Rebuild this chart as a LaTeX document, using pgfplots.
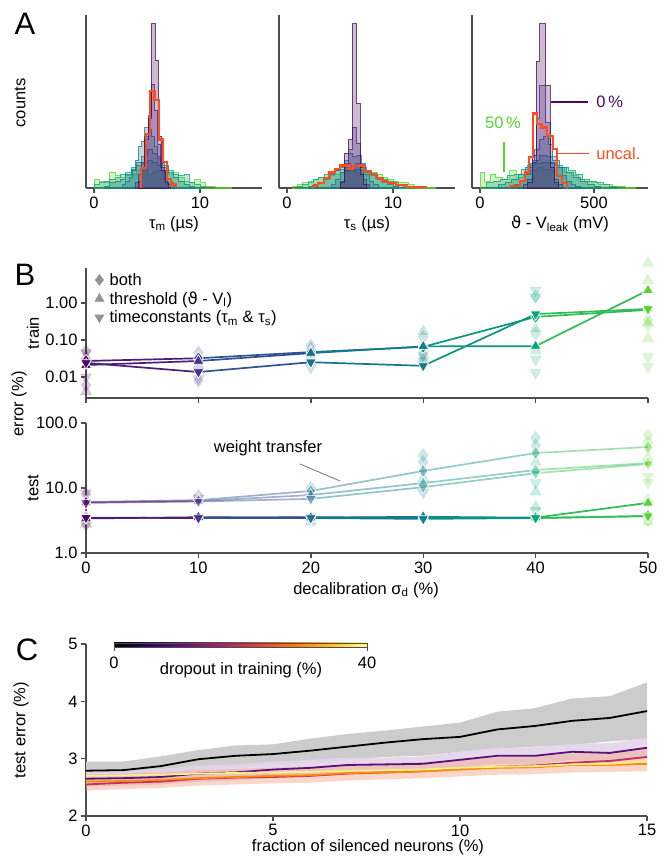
\documentclass[border=0pt]{standalone}
\usepackage{fontspec}
\setmainfont{Liberation Sans}
\newfontfamily\dv{DejaVu Sans}
\usepackage{pgfplots}
\pgfplotsset{compat=1.18}

\newcommand{\vth}{{\dv ϑ}}
\newcommand{\fs}{\fontsize{16.5}{19}\selectfont}
\newcommand{\panelfont}{\fontsize{31}{33}\selectfont}

\definecolor{spine}{HTML}{4D4D4D}
\definecolor{d0}{RGB}{74,10,94}
\definecolor{d1}{RGB}{70,53,138}
\definecolor{d2}{RGB}{29,111,146}
\definecolor{d3}{RGB}{14,128,134}
\definecolor{d4}{RGB}{10,165,122}
\definecolor{d5}{RGB}{88,212,48}
\definecolor{uncal}{HTML}{FF4D1F}
\definecolor{inf1}{HTML}{5D0F80}
\definecolor{inf2}{HTML}{C92D5B}
\definecolor{inf3}{HTML}{FB8A08}
\definecolor{inf4}{HTML}{F8EE86}
\definecolor{warm}{HTML}{F2A486}
\definecolor{i0}{RGB}{0,0,4}
\definecolor{i1}{RGB}{40,11,84}
\definecolor{i2}{RGB}{101,21,110}
\definecolor{i3}{RGB}{159,42,99}
\definecolor{i4}{RGB}{212,72,66}
\definecolor{i5}{RGB}{245,125,21}
\definecolor{i6}{RGB}{250,193,39}
\definecolor{i7}{RGB}{252,255,164}
% tikz maps the 25bp..75bp part of a shading onto the path
\pgfdeclarehorizontalshading{infernobar}{100bp}{color(0bp)=(i0); color(25bp)=(i0); color(32.14bp)=(i1); color(39.29bp)=(i2); color(46.43bp)=(i3); color(53.57bp)=(i4); color(60.71bp)=(i5); color(67.86bp)=(i6); color(75bp)=(i7); color(100bp)=(i7)}

\pgfplotsset{
  colormap={decal}{rgb255=(74,10,94) rgb255=(70,53,138) rgb255=(29,111,146) rgb255=(14,128,134) rgb255=(10,165,122) rgb255=(88,212,48)},
  /pgf/number format/assume math mode=true,
  base/.style={
    scale only axis, clip=false,
    axis lines=left, axis line style={-, spine, line width=1.8pt},
    tick style={spine, line width=1.4pt}, tick align=outside,
    major tick length=5pt,
    tick label style={font=\fs, black},
  },
  ha/.style={base, width=176pt, height=173pt, ymin=0, ymax=100, ytick=\empty},
  hist/.style={const plot, line width=0.9pt, draw=#1, draw opacity=0.75, fill=#1, fill opacity=0.28},
  unc/.style={const plot, uncal, line width=2.2pt},
  dmark/.style={mark=diamond*, mark size=6.5pt},
  umark/.style={mark=triangle*, mark size=6.3pt},
  vmark/.style={mark=triangle*, mark size=6.3pt, mark options={rotate=180}},
  main/.style={scatter, only marks, scatter src=x, scatter/use mapped color={draw=white, fill=mapped color, line width=0.7pt}},
  faded/.style={scatter, only marks, scatter src=x, scatter/use mapped color={draw=mapped color, fill=mapped color, opacity=0.2}},
  light/.style={scatter, only marks, scatter src=x, scatter/use mapped color={draw=white, fill=mapped color, fill opacity=0.45, line width=0.5pt}},
  gline/.style={mesh, point meta=x, line width=1.7pt},
}

% panel C: mean test error per dropout level (k=0%, p~10%, r~20%, o~30%, yl~40%)
\pgfplotstableread{
x  k    p    r    o    yl
0  2.79 2.65 2.55 2.60 2.70
1  2.80 2.66 2.58 2.61 2.71
2  2.87 2.68 2.60 2.63 2.72
3  2.99 2.74 2.65 2.66 2.74
4  3.05 2.76 2.67 2.68 2.75
5  3.08 2.81 2.68 2.70 2.76
6  3.14 2.84 2.70 2.71 2.77
7  3.21 2.89 2.74 2.75 2.79
8  3.28 2.90 2.76 2.76 2.80
9  3.34 2.91 2.78 2.78 2.81
10 3.38 2.98 2.82 2.81 2.84
11 3.51 3.05 2.86 2.84 2.86
12 3.57 3.05 2.88 2.85 2.87
13 3.66 3.12 2.93 2.89 2.90
14 3.71 3.10 2.96 2.89 2.91
15 3.83 3.19 3.03 2.91 2.96
}\dataC

\begin{document}
\begin{tikzpicture}
\useasboundingbox (0,0) rectangle (667pt,861pt);

% ---------------- panel A ----------------
\begin{axis}[ha, at={(86pt,673pt)}, anchor=south west, xmin=-0.755, xmax=15.85, xtick={0,10}]
\addplot[hist=d5] coordinates {(0,5) (0.5,4) (1,3) (1.5,9) (2,7) (2.5,6) (3,7) (3.5,8) (4,10) (4.5,12) (5,8) (5.5,9) (6,10) (6.5,9) (7,8) (7.5,9) (8,6) (8.5,4) (9,3) (9.5,5) (10,3) (10.5,1) (11,1) (11.5,0.5) (12,0.5) (12.5,0.3) (13,0)} \closedcycle;
\addplot[hist=d4] coordinates {(0,2) (0.5,3) (1,4) (1.5,5) (2,6) (2.5,8) (3,9) (3.5,12) (4,13) (4.5,14) (5,16) (5.5,15) (6,13) (6.5,12) (7,10) (7.5,8) (8,7) (8.5,8) (9,3) (9.5,2) (10,1) (10.5,0)} \closedcycle;
\addplot[hist=d3] coordinates {(1,1) (1.5,3) (2,4) (2.5,5) (3,8) (3.5,11) (4,15) (4.5,18) (5,22) (5.5,20) (6,17) (6.5,13) (7,9) (7.5,6) (8,4) (8.5,2) (9,1) (9.5,0)} \closedcycle;
\addplot[hist=d2] coordinates {(2.7,2) (3.0,4) (3.3,6) (3.6,10) (3.9,16) (4.2,24) (4.5,27) (4.8,35) (5.1,34) (5.4,30) (5.7,24) (6.0,18) (6.3,14) (6.6,8) (6.9,5) (7.2,3) (7.5,1) (7.8,0)} \closedcycle;
\addplot[hist=d1] coordinates {(3.9,3) (4.2,8) (4.5,15) (4.8,30) (5.1,42) (5.4,60) (5.7,45) (6.0,25) (6.3,12) (6.6,5) (6.9,2) (7.2,0)} \closedcycle;
\addplot[hist=d0] coordinates {(4.2,4) (4.5,12) (4.8,28) (5.1,40) (5.4,95) (5.8,74) (6.1,30) (6.4,10) (6.7,3) (7.0,0)} \closedcycle;
\addplot[unc] coordinates {(4.4,0) (4.4,11.6) (4.9,31) (5.3,56) (5.7,51) (6.1,28) (6.5,15) (6.9,5) (7.3,2) (7.7,0)};
\end{axis}

\begin{axis}[ha, at={(279pt,673pt)}, anchor=south west, xmin=-0.755, xmax=15.85, xtick={0,10}]
\addplot[hist=d5] coordinates {(0.5,1) (1,2) (1.5,3) (2,4) (2.5,5) (3,6) (3.5,6) (4,7) (4.5,8) (5,9) (5.5,10) (6,10) (6.5,9) (7,10) (7.5,9) (8,9) (8.5,8) (9,6) (9.5,5) (10,4) (10.5,3) (11,3) (11.5,2) (12,1) (12.5,1) (13,0.5) (14,0)} \closedcycle;
\addplot[hist=d4] coordinates {(1,1) (1.5,2) (2,3) (2.5,5) (3,6) (3.5,8) (4,9) (4.5,10) (5,11) (5.5,12) (6,11) (6.5,11) (7,10) (7.5,9) (8,8) (8.5,6) (9,5) (9.5,4) (10,3) (10.5,2) (11,1) (11.5,1) (12,0)} \closedcycle;
\addplot[hist=d3] coordinates {(2,1) (2.5,2) (3,3) (3.5,5) (4,8) (4.5,10) (5,12) (5.5,14) (6,13) (6.5,14) (7,12) (7.5,10) (8,7) (8.5,5) (9,3) (9.5,2) (10,1) (10.5,0)} \closedcycle;
\addplot[hist=d2] coordinates {(4.2,2) (4.6,5) (5.0,9) (5.4,16) (5.8,20) (6.2,18) (6.6,19) (7.0,14) (7.4,8) (7.8,4) (8.2,2) (8.6,0)} \closedcycle;
\addplot[hist=d1] coordinates {(5.0,4) (5.4,10) (5.8,22) (6.15,35) (6.55,26) (6.9,12) (7.2,5) (7.5,2) (7.8,0)} \closedcycle;
\addplot[hist=d0] coordinates {(5.0,3) (5.4,20) (5.8,28) (6.15,95) (6.55,49) (6.9,8) (7.2,2) (7.5,0)} \closedcycle;
\addplot[unc] coordinates {(2.45,0) (2.45,1) (2.9,3) (3.5,6) (4.0,9) (4.5,11) (5.0,13) (5.9,11) (6.2,12.5) (6.9,13) (7.3,10) (7.8,8) (8.4,6) (9.0,4) (9.5,3) (10.3,1.5) (11.3,0.5) (13.1,0)};
\end{axis}

\begin{axis}[ha, at={(472pt,673pt)}, anchor=south west, xmin=-35, xmax=737, xtick={0,500}]
\addplot[hist=d5] coordinates {(0,9) (20,4) (45,8) (70,6) (100,5) (130,10) (160,6) (190,8) (220,10) (250,12) (280,11) (310,10) (340,12) (370,9) (400,7) (430,5) (460,4) (490,3) (520,2) (550,2) (580,1) (610,1) (640,0.5) (680,0)} \closedcycle;
\addplot[hist=d4] coordinates {(30,3) (60,4) (90,5) (120,7) (150,8) (180,11) (210,13) (240,14) (270,15) (300,14) (330,13) (360,12) (390,10) (420,8) (450,5) (480,4) (510,3) (540,2) (570,1) (600,0)} \closedcycle;
\addplot[hist=d3] coordinates {(80,2) (110,3) (140,5) (170,8) (200,12) (230,16) (260,19) (290,18) (320,16) (350,12) (380,9) (410,6) (440,4) (470,2) (500,1) (530,0)} \closedcycle;
\addplot[hist=d2] coordinates {(150,2) (175,4) (200,8) (220,14) (240,22) (260,28) (280,30) (300,25) (320,18) (340,12) (360,7) (380,4) (400,2) (420,1) (440,0)} \closedcycle;
\addplot[hist=d1] coordinates {(190,2) (210,5) (228,15) (246,40) (263,59) (289,38) (307,15) (325,5) (343,2) (360,0)} \closedcycle;
\addplot[hist=d0] coordinates {(210,3) (228,19) (246,73) (263,95) (289,59) (307,12) (325,3) (343,0)} \closedcycle;
\addplot[unc] coordinates {(132,0) (132,1) (175,4) (197,9) (216,18) (231,43) (249,37) (270,35) (295,30) (319,22.5) (339,7) (358,3) (380,0)};
\draw[d0, line width=1.2pt] (axis cs:311,49.7) -- (axis cs:474,49.7);
\node[d0, font=\fs, anchor=west] at (axis cs:495,49.7) {0\,\%};
\draw[uncal, line width=1.2pt] (axis cs:342,20) -- (axis cs:478,20);
\node[uncal, font=\fs, anchor=west] at (axis cs:495,20) {uncal.};
\draw[d5, line width=1.2pt] (axis cs:105,9.2) -- (axis cs:105,26.6);
\node[d5, font=\fs] at (axis cs:101,37.6) {50\,\%};
\end{axis}

\node[font=\panelfont] at (25pt,837pt) {A};
\node[font=\fs, rotate=90] at (20pt,758pt) {counts};
\node[font=\fs] at (174pt,637pt) {τ\textsubscript{m} (µs)};
\node[font=\fs] at (367pt,637pt) {τ\textsubscript{s} (µs)};
\node[font=\fs] at (560pt,637pt) {\vth{} - V\textsubscript{leak} (mV)};

% ---------------- panel B ----------------
\begin{axis}[base, at={(86pt,463pt)}, anchor=south west, width=562pt, height=130pt,
  xmin=0, xmax=50, xtick={0,10,...,50}, xticklabels={},
  ymode=log, ymin=0.0027, ymax=8.8, ytick={0.01,0.1,1}, yticklabels={0.01,0.10,1.00}, yminorticks=false,
  colormap name=decal, point meta min=0, point meta max=50,
  legend style={at={(0,1)}, anchor=north west, xshift=2pt, yshift=-1pt, draw=none, fill=none, font=\fs, row sep=1pt},
  legend cell align=left,
  legend image code/.code={\path (-8pt,0pt) (8pt,0pt); \draw[#1] plot coordinates {(0pt,0pt)};}]
\addlegendimage{only marks, dmark, mark size=5.5pt, gray!85}
\addlegendentry{both}
\addlegendimage{only marks, umark, mark size=5.3pt, gray!85}
\addlegendentry{threshold (\vth{} - V\textsubscript{l})}
\addlegendimage{only marks, vmark, mark size=5.3pt, gray!85}
\addlegendentry{timeconstants (τ\textsubscript{m} \& τ\textsubscript{s})}
\addplot[faded, dmark] coordinates {(0,0.05) (0,0.006) (10,0.008) (10,0.045) (20,0.07) (20,0.03) (30,0.12) (30,0.04) (40,1.5) (40,0.15) (50,0.35) (50,0.25)};
\addplot[faded, umark] coordinates {(0,0.004) (0,0.035) (10,0.02) (20,0.06) (30,0.17) (30,0.03) (40,0.2) (40,0.05) (50,12) (50,4) (50,0.11) (50,0.3)};
\addplot[faded, vmark] coordinates {(0,0.045) (0,0.01) (10,0.009) (20,0.018) (30,0.04) (30,0.028) (40,2.2) (40,1.45) (40,0.013) (40,0.03) (50,0.035) (50,0.019)};
\addplot[gline] coordinates {(0,0.027) (10,0.032) (20,0.047) (30,0.065) (40,0.42) (50,0.65)};
\addplot[gline] coordinates {(0,0.021) (10,0.027) (20,0.044) (30,0.067) (40,0.068) (50,2.2)};
\addplot[gline] coordinates {(0,0.024) (10,0.0136) (20,0.025) (30,0.020) (40,0.50) (50,0.69)};
\addplot[main, dmark] coordinates {(0,0.027) (10,0.032) (20,0.047) (30,0.065) (40,0.42) (50,0.65)};
\addplot[main, umark] coordinates {(0,0.021) (10,0.027) (20,0.044) (30,0.067) (40,0.068) (50,2.2)};
\addplot[main, vmark] coordinates {(0,0.024) (10,0.0136) (20,0.025) (30,0.020) (40,0.50) (50,0.69)};
\end{axis}

\begin{axis}[base, at={(86pt,308pt)}, anchor=south west, width=562pt, height=130pt,
  xmin=0, xmax=50, xtick={0,10,...,50},
  ymode=log, ymin=1, ymax=100, ytick={1,10,100}, yticklabels={1.0,10.0,100.0}, yminorticks=false,
  colormap name=decal, point meta min=0, point meta max=50]
\addplot[faded, dmark] coordinates {(0,8) (10,7.5) (20,10) (30,32) (30,25) (40,59) (40,45) (50,65) (50,50)};
\addplot[faded, umark] coordinates {(0,2.8) (20,3.0) (30,14) (40,8.7) (40,25) (40,5.1) (50,30) (50,6.6) (50,3.0)};
\addplot[faded, vmark] coordinates {(0,8.4) (0,2.7) (10,7) (20,7.2) (30,8.5) (40,12) (40,4.5) (50,15) (50,12) (50,3.1)};
% weight transfer
\addplot[gline, opacity=0.45] coordinates {(0,6.1) (10,6.5) (20,9.0) (30,18.3) (40,34.5) (50,42.7)};
\addplot[gline, opacity=0.45] coordinates {(0,6.0) (10,6.3) (20,7.8) (30,11.9) (40,18.9) (50,24.2)};
\addplot[gline, opacity=0.45] coordinates {(0,5.9) (10,6.2) (20,6.8) (30,10.3) (40,16.9) (50,23.4)};
\addplot[light, dmark] coordinates {(0,6.1) (10,6.5) (20,9.0) (30,18.3) (40,34.5) (50,42.7)};
\addplot[light, umark] coordinates {(0,6.0) (10,6.3) (20,7.8) (30,11.9) (40,18.9) (50,24.2)};
\addplot[light, vmark] coordinates {(0,5.9) (10,6.2) (20,6.8) (30,10.3) (40,16.9) (50,23.4)};
% in-the-loop
\addplot[gline] coordinates {(0,3.5) (10,3.5) (20,3.55) (30,3.5) (40,3.45) (50,3.7)};
\addplot[gline] coordinates {(0,3.4) (10,3.55) (20,3.5) (30,3.6) (40,3.5) (50,5.9)};
\addplot[gline] coordinates {(0,3.5) (10,3.45) (20,3.45) (30,3.35) (40,3.45) (50,3.7)};
\addplot[main, dmark] coordinates {(0,3.5) (10,3.5) (20,3.55) (30,3.5) (40,3.45) (50,3.7)};
\addplot[main, umark] coordinates {(0,3.4) (10,3.55) (20,3.5) (30,3.6) (40,3.5) (50,5.9)};
\addplot[main, vmark] coordinates {(0,3.5) (10,3.45) (20,3.45) (30,3.35) (40,3.45) (50,3.7)};
\end{axis}

\node[font=\panelfont] at (25pt,586pt) {B};
\node[font=\fs, rotate=90] at (33pt,528pt) {train};
\node[font=\fs, rotate=90] at (33pt,373pt) {test};
\node[font=\fs, rotate=90] at (19pt,457pt) {error (\%)};
\node[font=\fs] at (268pt,413pt) {weight transfer};
\draw[gray, line width=0.9pt] (300pt,397pt) -- (340pt,380pt);
\node[font=\fs] at (366pt,271pt) {decalibration σ\textsubscript{d} (\%)};

% ---------------- panel C ----------------
\begin{axis}[base, at={(86pt,45pt)}, anchor=south west, width=561pt, height=172pt,
  xmin=0, xmax=15, ymin=2, ymax=5, xtick={0,5,10,15}, ytick={2,3,4,5}]
% spread bands (upper edge left to right, then lower edge right to left)
\addplot[draw=none, fill=black!20] coordinates {(0,2.95) (1,2.95) (2,3.04) (3,3.15) (4,3.23) (5,3.25) (6,3.35) (7,3.43) (8,3.49) (9,3.56) (10,3.63) (11,3.82) (12,3.88) (13,4.05) (14,4.09) (15,4.33)
  (15,3.35) (14,3.30) (13,3.24) (12,3.21) (11,3.17) (10,3.12) (9,3.05) (8,3.03) (7,2.98) (6,2.93) (5,2.90) (4,2.86) (3,2.80) (2,2.70) (1,2.65) (0,2.63)} -- cycle;
\addplot[draw=none, fill=inf1!18, fill opacity=0.9] coordinates {(0,2.78) (1,2.79) (2,2.82) (3,2.88) (4,2.90) (5,2.95) (6,2.98) (7,3.02) (8,3.02) (9,3.04) (10,3.12) (11,3.19) (12,3.20) (13,3.26) (14,3.27) (15,3.37)
  (15,3.01) (14,2.93) (13,2.98) (12,2.90) (11,2.91) (10,2.84) (9,2.78) (8,2.78) (7,2.76) (6,2.70) (5,2.67) (4,2.62) (3,2.60) (2,2.55) (1,2.53) (0,2.52)} -- cycle;
\addplot[draw=none, fill=warm, fill opacity=0.45] coordinates {(0,2.72) (1,2.74) (2,2.76) (3,2.80) (4,2.82) (5,2.84) (6,2.86) (7,2.90) (8,2.92) (9,2.94) (10,2.98) (11,3.02) (12,3.04) (13,3.09) (14,3.12) (15,3.18)
  (15,2.78) (14,2.77) (13,2.76) (12,2.73) (11,2.72) (10,2.69) (9,2.66) (8,2.64) (7,2.62) (6,2.58) (5,2.57) (4,2.55) (3,2.53) (2,2.49) (1,2.47) (0,2.44)} -- cycle;
\addplot[black, line width=1.8pt] table[x=x, y=k] {\dataC};
\addplot[inf1, line width=1.8pt] table[x=x, y=p] {\dataC};
\addplot[inf2, line width=1.8pt] table[x=x, y=r] {\dataC};
\addplot[inf3, line width=1.8pt] table[x=x, y=o] {\dataC};
\addplot[inf4, line width=1.8pt] table[x=x, y=yl] {\dataC};
\end{axis}

% colour bar (dropout in training)
\shade[shading=infernobar] (114pt,214pt) rectangle (367pt,218pt);
\draw[spine, line width=0.8pt] (114pt,214pt) rectangle (367pt,218pt);
\draw[spine, line width=1pt] (114pt,214pt) -- (114pt,210pt) (367pt,214pt) -- (367pt,210pt);
\node[font=\fs] at (114pt,198pt) {0};
\node[font=\fs] at (367pt,198pt) {40};
\node[font=\fs] at (241pt,191pt) {dropout in training (\%)};

\node[font=\panelfont] at (27pt,211pt) {C};
\node[font=\fs, rotate=90] at (21pt,131pt) {test error (\%)};
\node[font=\fs] at (368pt,14pt) {fraction of silenced neurons (\%)};
\end{tikzpicture}
\end{document}
